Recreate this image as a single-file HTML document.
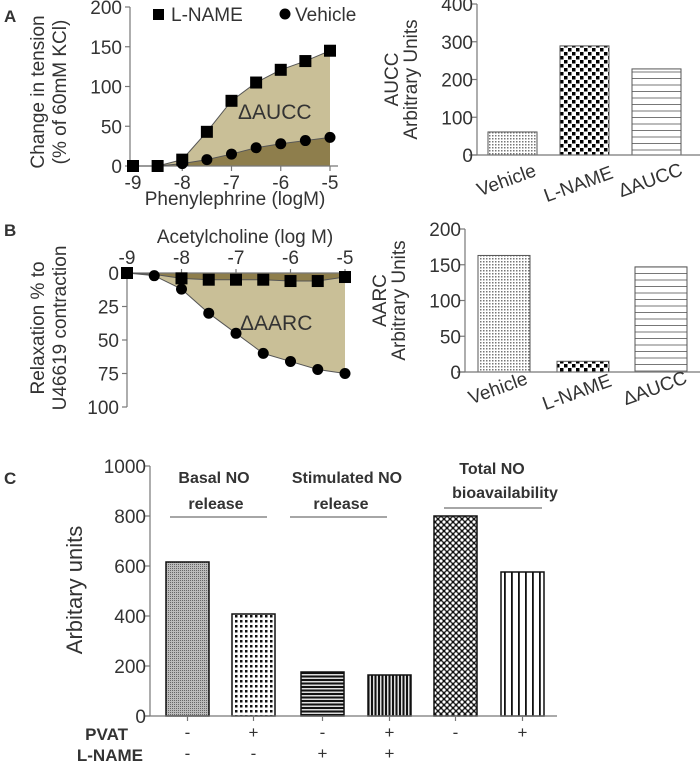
<!DOCTYPE html>
<html><head><meta charset="utf-8"><style>
html,body{margin:0;padding:0;background:#fff;}
svg{display:block;font-family:"Liberation Sans",sans-serif;}
text{fill:#333;}
</style></head><body>
<svg id="fig" width="700" height="763" viewBox="0 0 700 763" xmlns="http://www.w3.org/2000/svg">
<defs>
<pattern id="pDots" width="3" height="3" patternUnits="userSpaceOnUse"><rect width="3" height="3" fill="#fff"/><rect width="1.5" height="1.5" fill="#777"/></pattern>
<pattern id="pChk" width="8" height="8" patternUnits="userSpaceOnUse"><rect width="8" height="8" fill="#fff"/><rect width="3.5" height="3.5" fill="#000"/><rect x="4" y="4" width="3.5" height="3.5" fill="#000"/></pattern>
<pattern id="pHor" width="6" height="6.5" patternUnits="userSpaceOnUse"><rect width="6" height="6.5" fill="#fff"/><rect y="0" width="6" height="1" fill="#777"/></pattern>
<pattern id="pGrey" width="2" height="2" patternUnits="userSpaceOnUse"><rect width="2" height="2" fill="#bbb"/><rect width="1" height="1" fill="#666"/></pattern>
<pattern id="pChk2" width="5" height="5" patternUnits="userSpaceOnUse"><rect width="5" height="5" fill="#fff"/><rect width="2.5" height="2.5" fill="#111"/></pattern>
<pattern id="pHorB" width="4" height="3.5" patternUnits="userSpaceOnUse"><rect width="4" height="3.5" fill="#ddd"/><rect width="4" height="2" fill="#111"/></pattern>
<pattern id="pVerB" width="3.5" height="4" patternUnits="userSpaceOnUse"><rect width="3.5" height="4" fill="#ddd"/><rect width="2" height="4" fill="#111"/></pattern>
<pattern id="pDia" width="6" height="6" patternUnits="userSpaceOnUse"><rect width="6" height="6" fill="#111"/><circle cx="3" cy="3" r="1.6" fill="#fff"/><circle cx="0" cy="0" r="1.6" fill="#fff"/><circle cx="6" cy="0" r="1.6" fill="#fff"/><circle cx="0" cy="6" r="1.6" fill="#fff"/><circle cx="6" cy="6" r="1.6" fill="#fff"/></pattern>
<pattern id="pVer" width="7" height="4" patternUnits="userSpaceOnUse"><rect width="7" height="4" fill="#fff"/><rect width="1.8" height="4" fill="#111"/></pattern>
</defs>
<g id="root"></g>
</svg>
<script>
// ---- Panel A left data
const aDoses = [-9,-8.5,-8,-7.5,-7,-6.5,-6,-5.5,-5];
const aLname = [0,0,8,43,82,105,121,132,145];
const aVehicle = [0,0,3,8,15,23,28,32,36];
const aYTicks = [0,50,100,150,200];
const aXTicks = [-9,-8,-7,-6,-5];
// ---- Panel A right
const arCats = ["Vehicle","L-NAME","ΔAUCC"];
const arVals = [61,289,228];
const arTicks = [0,100,200,300,400];
// ---- Panel B left
const bDoses = [-9,-8.5,-8,-7.5,-7,-6.5,-6,-5.5,-5];
const bLname = [0,1,4,5,5,5,6,6,3];
const bVehicle = [0,2,12,30,45,60,66,72,75];
const bYTicks = [0,25,50,75,100];
const bXTicks = [-9,-8,-7,-6,-5];
// ---- Panel B right
const brCats = ["Vehicle","L-NAME","ΔAUCC"];
const brVals = [163,15,147];
const brTicks = [0,50,100,150,200];
// ---- Panel C
const cVals = [616,408,176,164,800,576];
const cPvat = ["-","+","-","+","-","+"];
const cLname = ["-","-","+","+","",""];
const cTicks = [0,200,400,600,800,1000];

(function(){
const NS="http://www.w3.org/2000/svg";
const root=document.getElementById('root');
function mk(tag,attrs,parent,txt){const el=document.createElementNS(NS,tag);for(const k in attrs)el.setAttribute(k,attrs[k]);if(txt!==undefined)el.textContent=txt;(parent||root).appendChild(el);return el;}
function line(x1,y1,x2,y2,p,c,w){return mk('line',{x1:x1,y1:y1,x2:x2,y2:y2,stroke:c||'#777','stroke-width':w||1.2},p);}

let t;
t=mk('text',{x:4,y:22,'font-size':17,'font-weight':'bold',fill:'#111'},null,'A');


t=mk('text',{x:4,y:236,'font-size':17,'font-weight':'bold',fill:'#111'},null,'B');


t=mk('text',{x:4,y:484,'font-size':17,'font-weight':'bold',fill:'#111'},null,'C');



// ===== Panel A left
const xA=v=>133+(v+9)*49.25, yA=v=>166-v*0.795;
const gA=mk('g',{});


const aTopPts=aDoses.map((d,i)=>xA(d)+','+yA(aLname[i])).join(' ');
const aVehPts=aDoses.map((d,i)=>xA(d)+','+yA(aVehicle[i]));
let el=mk('polygon',{points:aTopPts+' '+aVehPts.slice().reverse().join(' '),fill:'#c9bf97'},gA);


el=mk('polygon',{points:aVehPts.join(' ')+' '+xA(-5)+','+yA(0)+' '+xA(-9)+','+yA(0),fill:'#8e7e4c'},gA);


line(130,yA(0),338,yA(0),gA);line(130,yA(200),130,yA(0),gA);
aYTicks.forEach(v=>{line(125,yA(v),130,yA(v),gA);const tt=mk('text',{x:122,y:yA(v)+7,'font-size':19,'text-anchor':'end'},gA,v);

});
aXTicks.forEach(v=>{line(xA(v),yA(0),xA(v),yA(0)+5,gA);const tt=mk('text',{x:xA(v),y:189,'font-size':19,'text-anchor':'middle'},gA,v);

});
mk('polyline',{points:aTopPts,fill:'none',stroke:'#555','stroke-width':1},gA);
mk('polyline',{points:aVehPts.join(' '),fill:'none',stroke:'#555','stroke-width':1},gA);
aDoses.forEach((d,i)=>{const r=mk('rect',{x:xA(d)-6,y:yA(aLname[i])-6,width:12,height:12,fill:'#000'},gA);

});
aDoses.forEach((d,i)=>{const c=mk('circle',{cx:xA(d),cy:yA(aVehicle[i]),r:5.5,fill:'#000'},gA);

});
t=mk('text',{x:238,y:119,'font-size':21},gA,'ΔAUCC');


const lg=mk('g',{},gA);


mk('rect',{x:153,y:9,width:11,height:11,fill:'#000'},lg);
mk('text',{x:171,y:21,'font-size':19},lg,'L-NAME');
mk('circle',{cx:285,cy:14,r:5.5,fill:'#000'},lg);
mk('text',{x:295,y:21,'font-size':19},lg,'Vehicle');
t=mk('text',{x:235,y:205,'font-size':19,'text-anchor':'middle'},gA,'Phenylephrine (logM)');


t=mk('text',{transform:'translate(44,92) rotate(-90)','font-size':19,'text-anchor':'middle'},gA,'Change in tension');


mk('text',{transform:'translate(66,92) rotate(-90)','font-size':19,'text-anchor':'middle'},gA,'(% of 60mM KCl)');

function barChart(nm,vals,cats,yf,axisX,axisR,y0,xs,w,fills,ticks,title1,title2,tx,labelY){
  const g=mk('g',{});
  
  
  vals.forEach((v,i)=>{const r=mk('rect',{x:xs[i],y:yf(v),width:w,height:y0-yf(v),fill:'url(#'+fills[i]+')',stroke:'#555','stroke-width':1},g);
  
  });
  line(axisX,yf(ticks[ticks.length-1]),axisX,y0,g);line(axisX-8,y0,axisR,y0,g);
  ticks.forEach(v=>{line(axisX-5,yf(v),axisX,yf(v),g);const tt=mk('text',{x:axisX-4,y:yf(v)+7,'font-size':19,'text-anchor':'end'},g,v);
  
  });
  cats.forEach((c,i)=>{const cx=xs[i]+w/2;const tt=mk('text',{transform:'translate('+(cx-4)+','+(labelY+(i==1?6:2))+') rotate(-20)','font-size':19,'text-anchor':'middle'},g,c);
  
  });
  const mid=(yf(ticks[0])+yf(ticks[ticks.length-1]))/2;
  const a=mk('text',{transform:'translate('+tx+','+mid+') rotate(-90)','font-size':19,'text-anchor':'middle'},g,title1);
  
  
  mk('text',{transform:'translate('+(tx+19)+','+mid+') rotate(-90)','font-size':19,'text-anchor':'middle'},g,title2);
}
const yAR=v=>155-v*0.3775;
barChart('panel-a-aucc-bar-chart',arVals,arCats,yAR,477,700,155,[488,560,632],49,['pDots','pChk','pHor'],arTicks,'AUCC','Arbitrary Units',398,184);
const yBR=v=>372-v*0.715;
barChart('panel-b-aarc-bar-chart',brVals,brCats,yBR,465,700,372,[478,557,635],52,['pDots','pChk','pHor'],brTicks,'AARC','Arbitrary Units',386,392);

// ===== Panel B left
const xB=v=>127+(v+9)*54.5, yB=v=>273+v*1.34;
const gB=mk('g',{});


const bTopPts=bDoses.map((d,i)=>xB(d)+','+yB(bLname[i])).join(' ');
const bVehPts=bDoses.map((d,i)=>xB(d)+','+yB(bVehicle[i]));
el=mk('polygon',{points:bTopPts+' '+bVehPts.slice().reverse().join(' '),fill:'#c9bf97'},gB);


el=mk('polygon',{points:bTopPts+' '+xB(-5)+','+yB(0)+' '+xB(-9)+','+yB(0),fill:'#8e7e4c'},gB);


line(127,yB(0),347,yB(0),gB);line(127,yB(0),127,yB(100),gB);
bYTicks.forEach(v=>{line(122,yB(v),127,yB(v),gB);const tt=mk('text',{x:119,y:yB(v)+7,'font-size':19,'text-anchor':'end'},gB,v);

});
bXTicks.forEach(v=>{line(xB(v),yB(0)-4,xB(v),yB(0),gB);const tt=mk('text',{x:xB(v),y:264,'font-size':19,'text-anchor':'middle'},gB,v);

});
mk('polyline',{points:bTopPts,fill:'none',stroke:'#555','stroke-width':1},gB);
mk('polyline',{points:bVehPts.join(' '),fill:'none',stroke:'#555','stroke-width':1},gB);
bDoses.forEach((d,i)=>{const c=mk('circle',{cx:xB(d),cy:yB(bVehicle[i]),r:5.5,fill:'#000'},gB);

});
bDoses.forEach((d,i)=>{if(i==1)return;const r=mk('rect',{x:xB(d)-6,y:yB(bLname[i])-6,width:12,height:12,fill:'#000'},gB);

});
t=mk('text',{x:240,y:330,'font-size':21},gB,'ΔAARC');


t=mk('text',{x:245,y:243,'font-size':19,'text-anchor':'middle'},gB,'Acetylcholine (log M)');


t=mk('text',{transform:'translate(44,328) rotate(-90)','font-size':19,'text-anchor':'middle'},gB,'Relaxation % to');


mk('text',{transform:'translate(66,328) rotate(-90)','font-size':19,'text-anchor':'middle'},gB,'U46619 contraction');

// ===== Panel C
const yC=v=>716-v*0.25;
const cX=[166,232,301,368,434,501], cW=43;
const cFills=['pGrey','pChk2','pHorB','pVerB','pDia','pVer'];
const gC=mk('g',{});


cVals.forEach((v,i)=>{const r=mk('rect',{x:cX[i],y:yC(v),width:cW,height:716-yC(v),fill:'url(#'+cFills[i]+')',stroke:'#111','stroke-width':1.5},gC);

});
line(150,yC(1000),150,716,gC);line(145,716,557,716,gC);
cTicks.forEach(v=>{line(145,yC(v),150,yC(v),gC);const tt=mk('text',{x:146,y:yC(v)+7,'font-size':19,'text-anchor':'end'},gC,v);

});
t=mk('text',{transform:'translate(82,590) rotate(-90)','font-size':22,'text-anchor':'middle'},gC,'Arbitary units');


cX.forEach((x,i)=>{line(x+cW/2,716,x+cW/2,721,gC);
  let a=mk('text',{x:x+cW/2,y:738,'font-size':17,'text-anchor':'middle',fill:'#111'},gC,cPvat[i]);
  
  
  if(cLname[i]){a=mk('text',{x:x+cW/2,y:759,'font-size':17,'text-anchor':'middle',fill:'#111'},gC,cLname[i]);
  
  }});
t=mk('text',{x:128,y:740,'font-size':17,'font-weight':'bold','text-anchor':'end',fill:'#111'},gC,'PVAT');


t=mk('text',{x:143,y:761,'font-size':17,'font-weight':'bold','text-anchor':'end',fill:'#111'},gC,'L-NAME');


const grp=[["Basal NO","release",214,216,170,267,483,509,517],["Stimulated NO","release",347,341,290,387,483,509,517],["Total NO","bioavailability",492,505,444,542,474,498,508]];
grp.forEach(g=>{const gg=mk('g',{},gC);
  
  
  mk('text',{x:g[2],y:g[6],'font-size':16,'font-weight':'bold','text-anchor':'middle',fill:'#111'},gg,g[0]);
  mk('text',{x:g[3],y:g[7],'font-size':16,'font-weight':'bold','text-anchor':'middle',fill:'#111'},gg,g[1]);
  line(g[4],g[8],g[5],g[8],gg,'#888',1.5);});
})();
</script>
</body></html>
